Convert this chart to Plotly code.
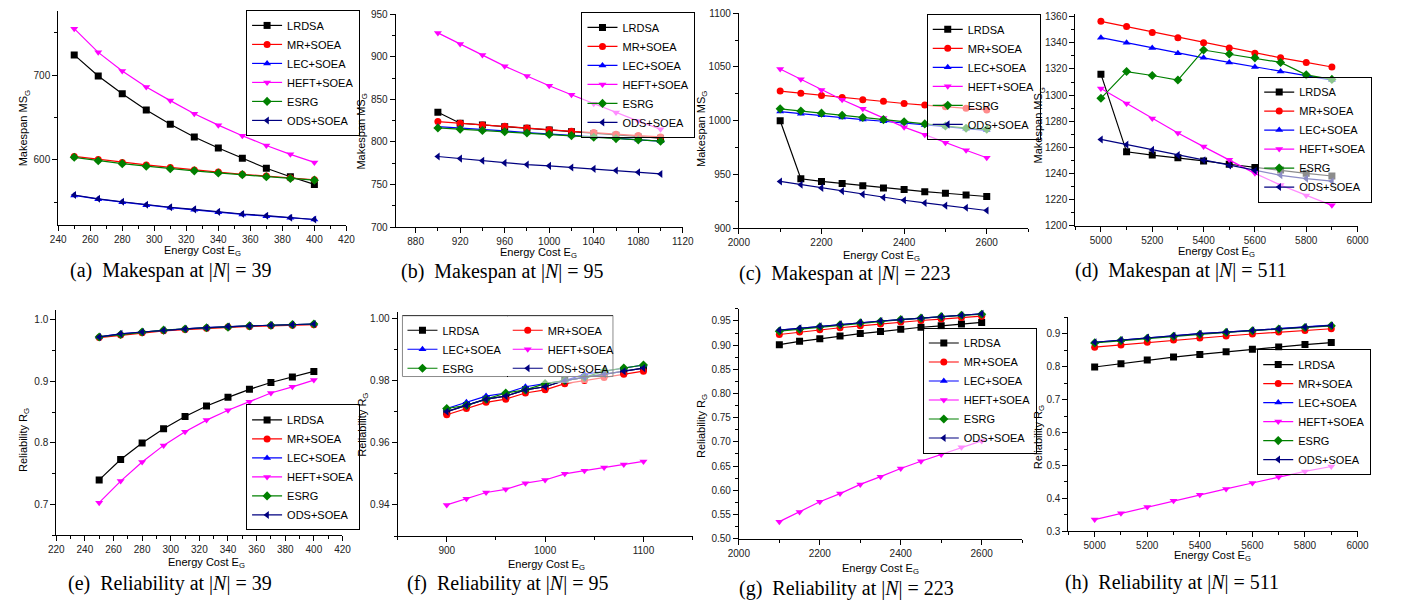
import plotly.graph_objects as go

W, H = 1403, 607

# ---------------- data ----------------
NAMES = ["LRDSA", "MR+SOEA", "LEC+SOEA", "HEFT+SOEA", "ESRG", "ODS+SOEA"]
COLORS = ["#000000", "#FF0000", "#0000FF", "#FF00FF", "#008000", "#000080"]
SYMBOLS = ["square", "circle", "triangle-up", "triangle-down", "diamond", "triangle-left"]

# (a) Makespan, |N| = 39
X39 = [250, 265, 280, 295, 310, 325, 340, 355, 370, 385, 400]
MS39_LRDSA = [724, 699, 678, 659, 642, 627, 614, 602, 590, 580, 571]
MS39_MR = [604, 600.5, 597, 594, 591, 588, 585.5, 583, 581, 578.5, 576.5]
MS39_LEC = [558, 553.5, 550, 546.5, 543.5, 541, 538, 535.5, 533.5, 531.5, 529.5]
MS39_HEFT = [755, 727, 705, 686, 670, 654.5, 641, 628.5, 617, 606.5, 597]
MS39_ESRG = [603, 599, 595.5, 592.5, 589.5, 587, 584.5, 582.5, 580, 578, 576]
MS39_ODS = [558.5, 554, 550.5, 547, 544, 541.5, 538.5, 536, 534, 531.5, 529.5]

# (b) Makespan, |N| = 95
X95 = [900, 920, 940, 960, 980, 1000, 1020, 1040, 1060, 1080, 1100]
MS95_LRDSA = [835, 822, 820, 818, 816, 814, 812, 810, 808, 806, 804.5]
MS95_MR = [824, 822, 820, 818.5, 816.5, 814.5, 812.5, 811, 809, 807.5, 806]
MS95_LEC = [818, 816.5, 814.5, 813, 811, 809.5, 807.5, 806, 804.5, 802.5, 801]
MS95_HEFT = [928, 915, 902, 889, 877.5, 866, 855.5, 845, 834.5, 824.5, 815]
MS95_ESRG = [816.5, 815, 813.5, 812, 810.5, 809, 807.5, 805.5, 804, 802.5, 801]
MS95_ODS = [783, 780.5, 778, 775.5, 773.5, 772, 770, 768.5, 766.5, 764.5, 762.5]

# (c) Makespan, |N| = 223
X223 = [2100, 2150, 2200, 2250, 2300, 2350, 2400, 2450, 2500, 2550, 2600]
MS223_LRDSA = [1000, 946, 943.5, 941.5, 939.5, 937.5, 936, 934, 932.5, 931, 929.5]
MS223_MR = [1027.5, 1025.5, 1023.5, 1021.5, 1019.5, 1018, 1016, 1014.5, 1013, 1011.5, 1010]
MS223_LEC = [1008.5, 1006.5, 1005, 1003, 1001, 999.5, 998, 996, 994.5, 992.5, 991]
MS223_HEFT = [1048, 1038.5, 1028.5, 1019.5, 1011, 1002.5, 994, 987, 979.5, 972.5, 965.5]
MS223_ESRG = [1011, 1009, 1007, 1005, 1003, 1001, 999, 997, 995, 993, 992]
MS223_ODS = [943.5, 940.5, 937.5, 934.5, 931.5, 928.5, 926, 923.5, 921, 919, 916.5]

# (d) Makespan, |N| = 511
X511 = [5000, 5100, 5200, 5300, 5400, 5500, 5600, 5700, 5800, 5900]
MS511_LRDSA = [1316, 1256.5, 1254, 1252, 1249.5, 1247, 1244.5, 1242.5, 1240, 1238]
MS511_MR = [1356.5, 1352.5, 1348, 1344, 1340, 1336, 1332, 1328.5, 1325, 1321.5]
MS511_LEC = [1344, 1340, 1336, 1332, 1328.5, 1325, 1321.5, 1318, 1315, 1311.5]
MS511_HEFT = [1305, 1293.5, 1282, 1271, 1260.5, 1250.5, 1240, 1231, 1223, 1215.5]
MS511_ESRG = [1297.5, 1318, 1315, 1311.5, 1334.5, 1331.5, 1328.5, 1325, 1315.5, 1312]
MS511_ODS = [1266, 1262, 1258, 1254, 1250, 1246, 1242, 1238.5, 1236, 1234]

# (e) Reliability, |N| = 39
R39_LRDSA = [0.740, 0.773, 0.800, 0.823, 0.843, 0.860, 0.874, 0.887, 0.898, 0.907, 0.916]
R39_MR = [0.971, 0.975, 0.979, 0.982, 0.984, 0.986, 0.988, 0.989, 0.990, 0.991, 0.992]
R39_LEC = [0.972, 0.977, 0.980, 0.983, 0.985, 0.987, 0.989, 0.990, 0.991, 0.992, 0.993]
R39_HEFT = [0.703, 0.738, 0.769, 0.796, 0.818, 0.837, 0.853, 0.867, 0.881, 0.891, 0.902]
R39_ESRG = [0.972, 0.976, 0.980, 0.983, 0.985, 0.987, 0.988, 0.990, 0.991, 0.992, 0.993]
R39_ODS = [0.972, 0.977, 0.980, 0.983, 0.985, 0.987, 0.989, 0.990, 0.991, 0.992, 0.993]

# (f) Reliability, |N| = 95
R95_LRDSA = [0.970, 0.972, 0.974, 0.975, 0.977, 0.978, 0.980, 0.981, 0.982, 0.983, 0.984]
R95_MR = [0.969, 0.971, 0.973, 0.974, 0.976, 0.977, 0.979, 0.980, 0.981, 0.982, 0.983]
R95_LEC = [0.971, 0.973, 0.975, 0.976, 0.978, 0.979, 0.980, 0.982, 0.983, 0.984, 0.985]
R95_HEFT = [0.940, 0.942, 0.944, 0.945, 0.947, 0.948, 0.950, 0.951, 0.952, 0.953, 0.954]
R95_ESRG = [0.971, 0.972, 0.974, 0.976, 0.977, 0.979, 0.980, 0.981, 0.983, 0.984, 0.985]
R95_ODS = [0.970, 0.972, 0.974, 0.975, 0.977, 0.978, 0.980, 0.981, 0.982, 0.983, 0.984]

# (g) Reliability, |N| = 223
R223_LRDSA = [0.901, 0.908, 0.913, 0.919, 0.924, 0.928, 0.933, 0.937, 0.940, 0.944, 0.947]
R223_MR = [0.922, 0.927, 0.932, 0.936, 0.940, 0.944, 0.948, 0.951, 0.954, 0.957, 0.960]
R223_LEC = [0.931, 0.935, 0.939, 0.943, 0.947, 0.950, 0.953, 0.956, 0.959, 0.962, 0.965]
R223_HEFT = [0.535, 0.555, 0.576, 0.593, 0.612, 0.628, 0.645, 0.660, 0.674, 0.689, 0.702]
R223_ESRG = [0.929, 0.933, 0.938, 0.942, 0.946, 0.949, 0.953, 0.956, 0.959, 0.962, 0.964]
R223_ODS = [0.931, 0.935, 0.939, 0.943, 0.947, 0.950, 0.953, 0.956, 0.959, 0.962, 0.965]

# (h) Reliability, |N| = 511
R511_LRDSA = [0.799, 0.809, 0.820, 0.829, 0.837, 0.845, 0.853, 0.860, 0.867, 0.873]
R511_MR = [0.859, 0.866, 0.874, 0.881, 0.887, 0.893, 0.899, 0.905, 0.910, 0.915]
R511_LEC = [0.874, 0.881, 0.888, 0.894, 0.900, 0.905, 0.910, 0.915, 0.920, 0.926]
R511_HEFT = [0.336, 0.355, 0.374, 0.393, 0.411, 0.429, 0.447, 0.465, 0.482, 0.497]
R511_ESRG = [0.872, 0.879, 0.886, 0.892, 0.898, 0.904, 0.909, 0.914, 0.919, 0.924]
R511_ODS = [0.874, 0.881, 0.888, 0.894, 0.900, 0.905, 0.910, 0.915, 0.920, 0.925]

CAPTIONS = [
    "(a)  Makespan at |<i>N</i>| = 39", "(b)  Makespan at |<i>N</i>| = 95",
    "(c)  Makespan at |<i>N</i>| = 223", "(d)  Makespan at |<i>N</i>| = 511",
    "(e)  Reliability at |<i>N</i>| = 39", "(f)  Reliability at |<i>N</i>| = 95",
    "(g)  Reliability at |<i>N</i>| = 223", "(h)  Reliability at |<i>N</i>| = 511",
]

SERIES = [
    (X39, [MS39_LRDSA, MS39_MR, MS39_LEC, MS39_HEFT, MS39_ESRG, MS39_ODS]),
    (X95, [MS95_LRDSA, MS95_MR, MS95_LEC, MS95_HEFT, MS95_ESRG, MS95_ODS]),
    (X223, [MS223_LRDSA, MS223_MR, MS223_LEC, MS223_HEFT, MS223_ESRG, MS223_ODS]),
    (X511, [MS511_LRDSA, MS511_MR, MS511_LEC, MS511_HEFT, MS511_ESRG, MS511_ODS]),
    (X39, [R39_LRDSA, R39_MR, R39_LEC, R39_HEFT, R39_ESRG, R39_ODS]),
    (X95, [R95_LRDSA, R95_MR, R95_LEC, R95_HEFT, R95_ESRG, R95_ODS]),
    (X223, [R223_LRDSA, R223_MR, R223_LEC, R223_HEFT, R223_ESRG, R223_ODS]),
    (X511, [R511_LRDSA, R511_MR, R511_LEC, R511_HEFT, R511_ESRG, R511_ODS]),
]

# ---------------- layout (pixels) ----------------
def fx(px):
    return px / W

def fy(py):
    return 1 - py / H

PANELS = [
    dict(box=(48, 341, 5, 223), xr=[240, 420], xd=20, xm=10, x0=0, yr=[523.5, 776], yd=100, ym=50, yf=""),
    dict(box=(391, 683, 8.3, 225.7), xr=[862, 1120], xd=40, xm=20, x0=880, yr=[700, 950], yd=50, ym=25, yf=""),
    dict(box=(740, 1034, 7.3, 226.7), xr=[2000, 2700], xd=200, xm=100, x0=0, yr=[900, 1100], yd=50, ym=25, yf=""),
    dict(box=(1082, 1369, 8.3, 224), xr=[4900, 6000], xd=200, xm=100, x0=0, yr=[1200, 1362], yd=20, ym=10, yf=""),
    dict(box=(46, 337, 310.6, 540), xr=[220, 420], xd=20, xm=10, x0=0, yr=[0.65, 1.015], yd=0.1, ym=0.05, yf=".1f"),
    dict(box=(393, 693, 312.3, 540.7), xr=[850, 1150], xd=100, xm=50, x0=0, yr=[0.93, 1.002], yd=0.02, ym=0.01, yf=".2f"),
    dict(box=(740, 1028, 309, 543.3), xr=[2000, 2700], xd=200, xm=100, x0=0, yr=[0.5, 0.975], yd=0.05, ym=0.025, yf=".2f"),
    dict(box=(1075, 1369, 317.5, 536), xr=[4900, 6000], xd=200, xm=100, x0=0, yr=[0.3, 0.95], yd=0.1, ym=0.05, yf=".1f"),
]

LEGENDS = [
    dict(x=239, y=4, ya="top"), dict(x=580, y=6, ya="top"), dict(x=931, y=8, ya="top"),
    dict(x=1268, y=72, ya="top"), dict(x=239, y=535, ya="bottom"), dict(x=398, y=316, ya="top"),
    dict(x=927, y=328, ya="top"), dict(x=1267, y=350, ya="top"),
]

YTITLE = [(13, 125), (357, 128), (702, 125), (1045, 122), (13, 443), (357, 427), (702, 428), (1045, 440)]
XTITLE = [(195, 250), (536, 252), (885, 255), (1226, 251), (199, 568), (544, 570), (884, 574), (1222, 561)]
CAPPOS = [(162, 270), (500, 271), (847, 273), (1190, 270), (162, 589), (505, 589), (849, 594), (1180, 588)]

TICKFONT = dict(family="Liberation Sans, Arial", size=10, color="#222")
TITLEFONT = dict(family="Liberation Sans, Arial", size=11, color="#000")

fig = go.Figure()

for k, (xs, ys_list) in enumerate(SERIES, start=1):
    sfx = "" if k == 1 else str(k)
    for i, ys in enumerate(ys_list):
        if k == 6:
            leg = "legend6" if i % 2 == 0 else "legend9"
        else:
            leg = "legend" + sfx
        fig.add_trace(go.Scatter(
            x=xs, y=ys, mode="lines+markers", name=NAMES[i],
            line=dict(color=COLORS[i], width=1.2),
            marker=dict(symbol=SYMBOLS[i], size=7, color=COLORS[i]),
            xaxis="x" + sfx, yaxis="y" + sfx, legend=leg, showlegend=True,
        ))

layout = dict(
    width=W, height=H, margin=dict(l=0, r=0, t=0, b=0),
    paper_bgcolor="white", plot_bgcolor="white", showlegend=True,
    font=dict(family="Liberation Sans, Arial", size=11, color="#000"),
)

for k, p in enumerate(PANELS, start=1):
    sfx = "" if k == 1 else str(k)
    l, r, t, b = p["box"]
    common = dict(showline=True, linecolor="black", linewidth=1, mirror=False,
                  ticks="outside", ticklen=5, tickwidth=1, tickcolor="black",
                  showgrid=False, zeroline=False, tickfont=TICKFONT)
    layout["xaxis" + sfx] = dict(
        domain=[fx(l), fx(r)], range=p["xr"], anchor="y" + sfx,
        dtick=p["xd"], tick0=p["x0"],
        minor=dict(dtick=p["xm"], tick0=p["x0"], ticks="outside", ticklen=3, tickcolor="black", showgrid=False),
        **common)
    layout["yaxis" + sfx] = dict(
        domain=[fy(b), fy(t)], range=p["yr"], anchor="x" + sfx,
        dtick=p["yd"], tick0=0, tickformat=p["yf"],
        minor=dict(dtick=p["ym"], tick0=0, ticks="outside", ticklen=3, tickcolor="black", showgrid=False),
        **common)

LEG_BG = "rgba(255,255,255,0.55)"
legend_base = dict(bgcolor=LEG_BG, bordercolor="black", borderwidth=1,
                   font=dict(family="Liberation Sans, Arial", size=11, color="#000"),
                   tracegroupgap=0, itemwidth=30, xanchor="left")
for k, lg in enumerate(LEGENDS, start=1):
    key = "legend" if k == 1 else "legend%d" % k
    d = dict(legend_base, x=fx(lg["x"]), y=fy(lg["y"]), yanchor=lg["ya"])
    if k == 6:
        d["borderwidth"] = 0
    layout[key] = d
layout["legend9"] = dict(legend_base, borderwidth=0, x=fx(505), y=fy(316), yanchor="top")

annotations = []
for k in range(8):
    ytxt = "Makespan MS<sub>G</sub>" if k < 4 else "Reliability R<sub>G</sub>"
    annotations.append(dict(text=ytxt, x=fx(YTITLE[k][0]), y=fy(YTITLE[k][1]), xref="paper", yref="paper",
                            textangle=-90, showarrow=False, xanchor="center", yanchor="middle", font=TITLEFONT))
    annotations.append(dict(text="Energy Cost E<sub>G</sub>", x=fx(XTITLE[k][0]), y=fy(XTITLE[k][1]),
                            xref="paper", yref="paper", showarrow=False, xanchor="center", yanchor="middle",
                            font=TITLEFONT))
    annotations.append(dict(text=CAPTIONS[k], x=fx(CAPPOS[k][0]), y=fy(CAPPOS[k][1]), xref="paper", yref="paper",
                            showarrow=False, xanchor="center", yanchor="middle",
                            font=dict(family="Liberation Serif, Times New Roman", size=20, color="#000")))
layout["annotations"] = annotations

layout["shapes"] = [dict(type="rect", xref="paper", yref="paper", x0=fx(398), x1=fx(612), y0=fy(316), y1=fy(378),
                         line=dict(color="black", width=1), fillcolor="rgba(0,0,0,0)", layer="above")]

fig.update_layout(**layout)
fig.write_html("out.html", config={"displayModeBar": False},
               post_script="document.body.style.margin='0px';")
